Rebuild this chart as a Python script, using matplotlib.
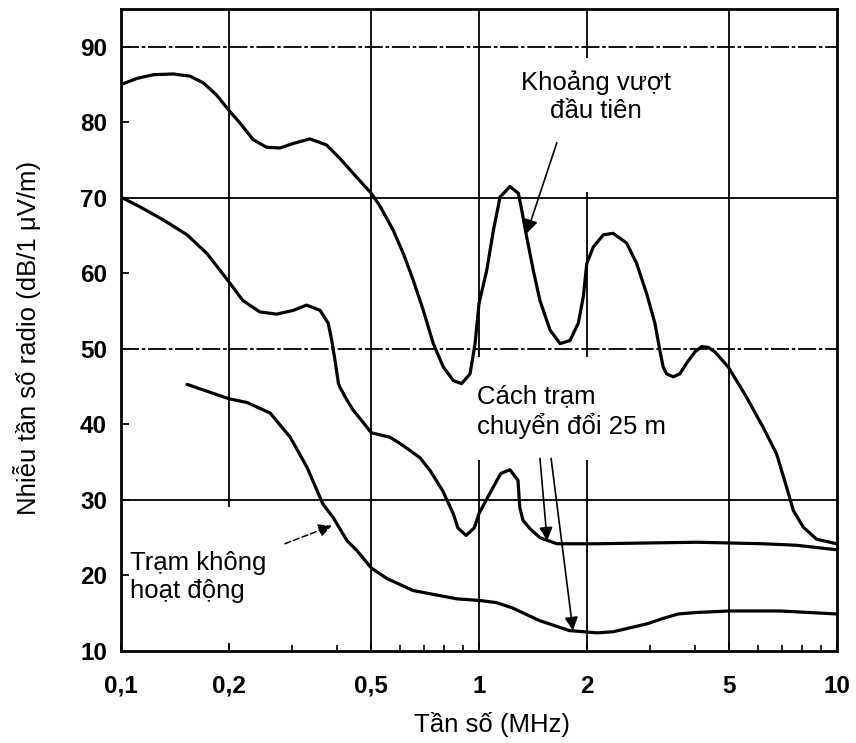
import numpy as np
import matplotlib
matplotlib.use("Agg")
import matplotlib.pyplot as plt
from matplotlib.patches import Rectangle

plt.rcParams['font.family'] = ['Liberation Sans', 'DejaVu Sans']

# ---------------- data ----------------
freq_peak = [0.1, 0.1106, 0.1231, 0.14, 0.156, 0.17, 0.185, 0.2, 0.215, 0.234, 0.255,
             0.278, 0.303, 0.337, 0.375, 0.409, 0.446, 0.5, 0.529, 0.576, 0.615, 0.655,
             0.699, 0.745, 0.795, 0.848, 0.894, 0.944, 0.975, 1.0, 1.051, 1.097, 1.145,
             1.22, 1.288, 1.316, 1.359, 1.418, 1.48, 1.579, 1.684, 1.795, 1.894, 1.956,
             2.0, 2.086, 2.225, 2.37, 2.585, 2.757, 2.94, 3.1, 3.2, 3.27, 3.34, 3.49, 3.64,
             3.8, 4.01, 4.19, 4.37, 4.56, 4.97, 5.59, 6.22, 6.78, 7.23, 7.55, 8.05, 8.77,
             9.76, 10.0]
level_peak = [85.0, 85.8, 86.3, 86.4, 86.1, 85.2, 83.6, 81.6, 79.9, 77.7, 76.7,
              76.6, 77.2, 77.8, 77.0, 75.2, 73.2, 70.6, 68.9, 65.7, 62.6, 59.1,
              55.1, 50.7, 47.6, 45.8, 45.4, 46.7, 50.7, 56.0, 60.4, 65.7, 70.1,
              71.5, 70.6, 68.4, 64.8, 60.4, 56.4, 52.5, 50.7, 51.1, 53.4, 56.9,
              61.3, 63.5, 65.1, 65.3, 64.0, 61.3, 57.3, 53.4, 49.8, 47.6, 46.7, 46.3, 46.7,
              48.1, 49.6, 50.3, 50.2, 49.6, 47.6, 43.6, 39.6, 36.1, 31.7, 28.6, 26.4, 24.8,
              24.3, 24.2]

freq_25m = [0.1, 0.113, 0.131, 0.153, 0.174, 0.189, 0.2, 0.219, 0.244, 0.272, 0.303,
            0.33, 0.36, 0.379, 0.388, 0.396, 0.405, 0.409, 0.428, 0.445, 0.474, 0.5,
            0.564, 0.601, 0.684, 0.73, 0.792, 0.847, 0.873, 0.92, 0.97, 1.0, 1.07, 1.15,
            1.22, 1.285, 1.30, 1.327, 1.388, 1.48, 1.65, 2.14, 4.06, 6.21, 7.7, 10.0]
level_25m = [70.1, 68.8, 67.1, 65.1, 62.6, 60.4, 58.9, 56.4, 54.9, 54.6, 55.1,
             55.8, 55.1, 53.4, 51.1, 48.5, 45.4, 44.9, 43.2, 41.9, 40.3, 38.9,
             38.3, 37.5, 35.6, 33.9, 31.2, 28.2, 26.3, 25.3, 26.3, 28.2, 30.8, 33.5,
             34.0, 32.6, 29.0, 27.3, 26.2, 25.0, 24.2, 24.2, 24.4, 24.2, 24.0, 23.4]

freq_off = [0.153, 0.2, 0.225, 0.261, 0.297, 0.331, 0.366, 0.391, 0.428, 0.456, 0.5,
            0.553, 0.655, 0.869, 1.0, 1.12, 1.24, 1.48, 1.79, 2.14, 2.37, 2.95, 3.26,
            3.6, 4.06, 5.0, 6.93, 10.0]
level_off = [45.3, 43.4, 42.9, 41.5, 38.3, 34.3, 29.5, 27.7, 24.6, 23.3, 21.0,
             19.6, 18.0, 16.9, 16.7, 16.4, 15.7, 14.0, 12.7, 12.4, 12.55, 13.6, 14.3,
             14.9, 15.1, 15.3, 15.3, 14.9]

x_ticks = [0.1, 0.2, 0.5, 1, 2, 5, 10]
x_ticklabels = ['0,1', '0,2', '0,5', '1', '2', '5', '10']
y_ticks = [10, 20, 30, 40, 50, 60, 70, 80, 90]

label_peak = "Khoảng vượt\nđầu tiên"
label_25m = "Cách trạm\nchuyển đổi 25 m"
label_off = "Trạm không\nhoạt động"
xlabel = "Tần số (MHz)"
ylabel = "Nhiễu tần số radio (dB/1 μV/m)"

# ---------------- figure ----------------
fig = plt.figure(figsize=(8.56, 7.43), dpi=100)
ax = fig.add_axes([121/856, 1-651/743, 716/856, 642/743])
ax.set_xscale('log')
ax.set_xlim(0.1, 10)
ax.set_ylim(10, 95)

# grid
for xv in [0.2, 0.5, 1, 2, 5]:
    ax.axvline(xv, color='black', lw=1.3, zorder=1)
for yv, ls in [(30, '-'), (50, (0, (10, 1.5, 2, 1.5))), (70, '-'), (90, (0, (10, 1.5, 2, 1.5)))]:
    ax.axhline(yv, color='black', lw=1.3, ls=ls, zorder=1)

# white boxes behind the annotation texts (hide the grid as in the original)
for (x0, y0, x1, y1) in [(0.550, 0.715, 0.781, 0.924),
                         (0.487, 0.2975, 0.781, 0.458),
                         (0.006, 0.0093, 0.222, 0.224)]:
    ax.add_patch(Rectangle((x0, y0), x1-x0, y1-y0, transform=ax.transAxes,
                           facecolor='white', edgecolor='none', zorder=1.5))

# curves
for fx, lv in [(freq_peak, level_peak), (freq_25m, level_25m), (freq_off, level_off)]:
    ax.plot(fx, lv, color='black', lw=2.3, solid_joinstyle='round',
            solid_capstyle='round', zorder=3)

# texts and arrows
ax.text(2.12, 86.9, label_peak, ha='center', va='top', fontsize=18.5,
        linespacing=1.2, zorder=4)
ax.text(0.99, 45.3, label_25m, ha='left', va='top', fontsize=18.5,
        linespacing=1.2, zorder=4)
ax.text(0.106, 23.2, label_off, ha='left', va='top', fontsize=18.5,
        linespacing=1.2, zorder=4)

arrow = dict(arrowstyle='-|>', color='black', lw=1.2, mutation_scale=20,
             shrinkA=0, shrinkB=0)
ax.annotate('', xy=(1.36, 65.3), xytext=(1.65, 77.3), arrowprops=arrow, zorder=4)
ax.annotate('', xy=(1.55, 24.6), xytext=(1.48, 35.5), arrowprops=arrow, zorder=4)
ax.annotate('', xy=(1.83, 12.7), xytext=(1.59, 35.5), arrowprops=arrow, zorder=4)
ax.annotate('', xy=(0.388, 26.6), xytext=(0.287, 24.2),
            arrowprops=dict(arrowstyle='-|>', color='black', lw=1.1, ls=(0, (4, 2)),
                            mutation_scale=20, shrinkA=0, shrinkB=0), zorder=4)

# ticks
ax.set_xticks(x_ticks)
ax.set_xticklabels(x_ticklabels)
ax.set_xticks([0.3, 0.4, 0.6, 0.7, 0.8, 0.9, 3, 4, 6, 7, 8, 9], minor=True)
ax.xaxis.set_minor_formatter(matplotlib.ticker.NullFormatter())
ax.set_yticks(y_ticks)
ax.tick_params(axis='both', which='major', direction='in', length=6, width=1.3,
               labelsize=17.5)
ax.tick_params(axis='x', which='minor', direction='in', length=4, width=1.2)
ax.tick_params(axis='x', which='major', pad=17)
ax.tick_params(axis='y', which='major', pad=10)
for lab in ax.get_xticklabels() + ax.get_yticklabels():
    lab.set_fontweight('bold')

for sp in ax.spines.values():
    sp.set_linewidth(2.0)
    sp.set_zorder(5)

ax.set_xlabel(xlabel, fontsize=18.5, va='center', ha='center')
ax.xaxis.set_label_coords(0.518, -0.114)
ax.set_ylabel(ylabel, fontsize=18.5, va='center', ha='center')
ax.yaxis.set_label_coords(-0.131, 0.4875)

fig.savefig('out.png', dpi=100)
